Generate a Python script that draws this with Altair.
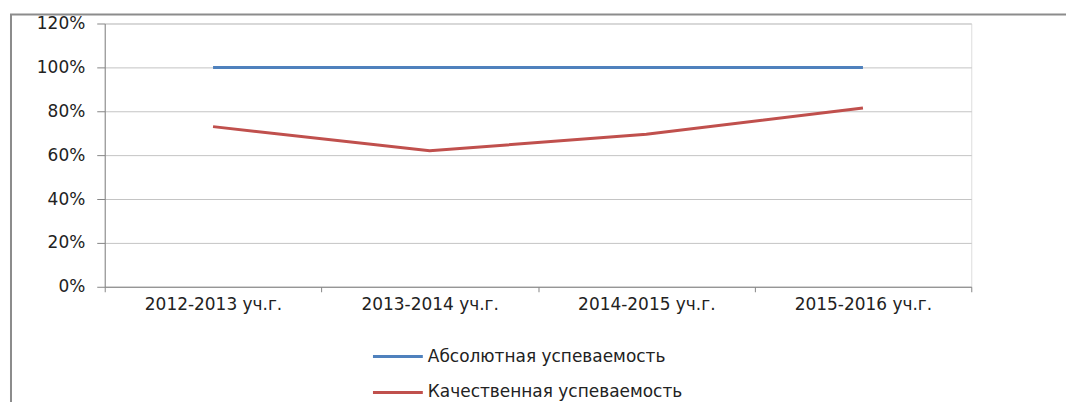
import altair as alt
import pandas as pd

categories = ["2012-2013 уч.г.", "2013-2014 уч.г.", "2014-2015 уч.г.", "2015-2016 уч.г."]
series_names = ["Абсолютная успеваемость", "Качественная успеваемость"]
absolute = [1.00, 1.00, 1.00, 1.00]
quality = [0.73, 0.62, 0.695, 0.815]
y_ticks = [0, 0.2, 0.4, 0.6, 0.8, 1.0, 1.2]
colors = ["#4F81BD", "#C0504D"]

rows = []
for name, vals in zip(series_names, [absolute, quality]):
    for c, v in zip(categories, vals):
        rows.append({"cat": c, "series": name, "value": v})
df = pd.DataFrame(rows)

W, H = 869, 264
FONT = "DejaVu Sans"
FS = 17

frame = alt.Chart(pd.DataFrame({"d": [0]})).mark_rect(
    filled=False, stroke="#8C8C8C", strokeWidth=2
).encode(
    x=alt.value(-94), x2=alt.value(W + 200),
    y=alt.value(-9), y2=alt.value(H + 200),
)

lines = alt.Chart(df).mark_line(strokeWidth=3).encode(
    x=alt.X("cat:N", sort=categories, bandPosition=0.5, title=None,
            scale=alt.Scale(type="band", paddingInner=0, paddingOuter=0),
            axis=alt.Axis(labelAngle=0, tickBand="extent", grid=False,
                          domainColor="#868686", tickColor="#868686",
                          tickSize=5, labelPadding=5, labelFontSize=FS,
                          labelFont=FONT, labelColor="#222222")),
    y=alt.Y("value:Q", title=None,
            scale=alt.Scale(domain=[0, 1.2], nice=False),
            axis=alt.Axis(values=y_ticks, format=".0%", grid=True,
                          gridColor="#C4C4C4", domainColor="#868686",
                          tickColor="#868686", tickSize=8, labelPadding=12,
                          labelFontSize=FS, labelFont=FONT, labelColor="#222222")),
    color=alt.Color("series:N", sort=series_names,
                    scale=alt.Scale(domain=series_names, range=colors),
                    legend=alt.Legend(title=None, orient="none", legendX=280, legendY=320,
                                      direction="vertical", symbolType="M-2,0H2",
                                      symbolSize=625, symbolStrokeWidth=3,
                                      labelFontSize=FS, labelFont=FONT, labelLimit=500,
                                      labelColor="#222222", rowPadding=14,
                                      labelOffset=16)),
)

chart = alt.layer(frame, lines).properties(
    width=W, height=H,
    autosize=alt.AutoSizeParams(type="none"),
    padding={"left": 97, "top": 15, "right": 95, "bottom": 115},
).configure_view(stroke=None).configure(background="white")

chart.save("out.html", embed_options={"renderer": "svg", "actions": False})
